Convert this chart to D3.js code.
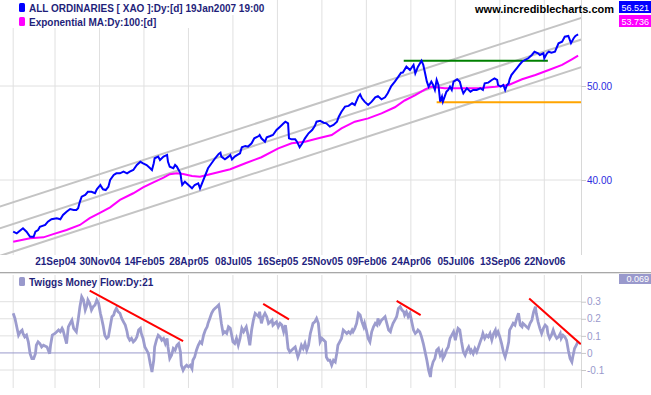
<!DOCTYPE html>
<html>
<head>
<meta charset="utf-8" />
<title>All Ordinaries - Twiggs Money Flow</title>
<script src="https://d3js.org/d3.v7.min.js"></script>
<style>
body { margin: 0; background: white; }
svg { display: block; background: white; font-family: "Liberation Sans", Arial, sans-serif; }
.grid line { stroke: #e0e0e0; stroke-width: 1; }
.legend text { font-size: 10px; font-weight: bold; fill: #1f1f7a; }
.xaxis text { font-size: 10px; font-weight: bold; fill: #1f1f80; }
.xaxis path, .xaxis line { display: none; }
.yaxis path { display: none; }
.yaxis text { font-size: 10px; }
</style>
</head>
<body>
<div id="chart"></div>
<script>
var width = 651, height = 395;

// x is counted in trading days from 21 Sep 2004
var tickDays = [0, 50, 100, 150, 200, 250, 300, 350, 400, 450, 500, 550];
var tickLabels = ["21Sep04", "30Nov04", "14Feb05", "28Apr05", "08Jul05", "16Sep05",
                  "25Nov05", "09Feb06", "24Apr06", "05Jul06", "13Sep06", "22Nov06"];
var priceTicks = [40, 50];
var mfTicks = [-0.1, 0, 0.1, 0.2, 0.3];

// ALL ORDINARIES close (/100)
var xao = [[-47,35.38],[-43,35.24],[-36,35.67],[-32,35.38],[-28,34.96],[-24,34.96],[-22,35.38],[-19,35.52],[-17,35.80],[-11,35.95],[-8,36.23],[-4,36.44],[2,36.53],[6,36.44],[9,36.81],[13,37.10],[17,37.34],[21,37.25],[24,37.25],[26,37.40],[28,38.00],[30,38.45],[34,38.60],[37,38.90],[41,38.90],[45,38.76],[47,39.13],[51,39.53],[52,39.37],[54,39.13],[57,39.06],[60,39.37],[62,40.00],[66,40.48],[69,40.64],[73,40.64],[77,40.80],[81,40.64],[84,40.80],[88,40.96],[92,41.45],[96,41.77],[99,41.62],[103,41.45],[107,41.13],[109,40.96],[111,41.62],[112,42.12],[116,42.28],[118,41.94],[122,42.28],[126,42.45],[127,41.77],[129,41.28],[133,41.13],[135,41.45],[137,41.28],[139,40.96],[141,40.64],[142,40.00],[143,39.53],[146,39.84],[150,39.53],[154,39.22],[157,39.53],[161,39.69],[163,39.22],
  [172,41.13],[176,41.62],[180,42.12],[184,42.55],[186,42.68],[187,42.28],[191,42.01],[195,42.28],[197,42.45],[199,42.01],[202,42.28],[205,42.45],[208,42.62],[210,43.23],[214,43.37],[217,43.30],[221,43.64],[224,44.16],[229,44.40],[230,44.51],[232,44.16],[236,43.81],[238,44.27],[242,44.40],[245,44.51],[249,45.04],[253,45.40],[257,45.76],[259,45.94],[262,45.76],[263,44.16],[266,44.05],[270,44.05],[272,43.81],[275,43.23],[278,43.64],[281,44.16],[285,44.69],[289,45.04],[292,45.47],[294,45.94],[298,46.04],[302,45.83],[305,45.76],[309,45.40],[313,45.58],[317,45.94],[319,46.48],[322,47.04],[326,47.61],[330,47.69],[334,47.99],[337,47.80],[341,48.75],[343,49.02],[345,48.56],[348,48.18],[352,47.80],[356,48.18],[360,48.68],[363,48.82],[367,48.45],[371,48.68],[374,49.14],[378,50.00],[382,50.52],[386,51.12],[389,51.61],[391,51.63],[395,52.35],[399,51.94],[403,52.56],[405,51.53],[408,52.35],[412,53.09],[414,52.56],[416,51.53],[418,50.52],[420,49.92],[423,50.52],[425,50.12],[427,49.53],[429,50.72],[431,50.12],[433,48.18],[435,48.75],[436,48.18],[438,48.75],[440,49.33],[442,49.53],[444,49.92],[446,49.53],[448,50.52],[452,50.80],[455,50.52],[457,49.73],[459,49.14],[463,49.73],[467,49.33],[470,49.53],[474,49.53],[478,49.73],[481,49.53],[483,50.32],[487,50.40],[491,50.72],[494,50.92],[497,50.72],[498,50.12],[501,49.92],[504,50.12],[506,49.53],[508,50.12],[510,50.32],[511,50.80],[513,51.32],[516,51.74],[519,52.15],[522,52.56],[525,52.96],[528,53.18],[532,53.40],[536,53.82],[539,54.24],[543,54.04],[545,53.82],[549,54.04],[550,53.40],[553,54.04],[555,54.24],[558,54.12],[562,54.24],[566,55.33],[570,55.55],[573,56.21],[577,56.31],[580,55.35],[583,56.00],[585,56.31],[588,56.52]];

// Exponential MA 100
var ema = [[-47,34.55],[-28,34.83],[-13,34.91],[-2,35.18],[13,35.52],[28,35.95],[39,36.53],[51,37.01],[62,37.49],[73,38.15],[88,38.76],[99,39.31],[110,39.75],[122,40.22],[129,40.55],[137,40.64],[144,40.58],[154,40.38],[163,40.32],[197,41.03],[214,41.62],[232,42.22],[251,43.12],[266,43.64],[281,43.81],[296,44.16],[311,44.51],[322,45.22],[337,45.94],[352,46.30],[367,46.86],[382,47.54],[393,48.31],[405,48.94],[416,49.61],[423,49.92],[438,49.73],[457,49.73],[476,49.73],[495,49.92],[510,50.12],[525,50.80],[540,51.32],[555,51.94],[570,52.56],[581,53.27],[588,53.74]];

// Twiggs Money Flow 21
var tmf = [[-47,0.232],[-45,0.202],[-43,0.153],[-41,0.104],[-39,0.124],[-37,0.134],[-36,0.114],[-34,0.094],[-32,0.104],[-30,0.065],[-28,-0.004],[-26,-0.033],[-24,-0.033],[-22,-0.004],[-21,0.045],[-19,0.065],[-17,0.055],[-15,0.035],[-13,0.045],[-9,0.035],[-6,-0.004],[-5,0.045],[-3,0.104],[0,0.114],[2,0.124],[4,0.134],[6,0.124],[8,0.144],[9,0.134],[11,0.094],[13,0.055],[15,0.153],[17,0.173],[19,0.192],[21,0.144],[24,0.124],[26,0.192],[28,0.271],[30,0.329],[32,0.310],[34,0.251],[36,0.281],[37,0.310],[39,0.291],[41,0.251],[43,0.271],[45,0.281],[47,0.310],[49,0.291],[51,0.232],[52,0.212],[54,0.163],[56,0.104],[58,0.085],[60,0.094],[62,0.153],[64,0.212],[66,0.222],[67,0.241],[69,0.261],[71,0.241],[73,0.232],[75,0.202],[77,0.182],[79,0.163],[81,0.124],[82,0.094],[84,0.075],[86,0.085],[88,0.065],[90,0.075],[92,0.094],[94,0.134],[96,0.144],[97,0.114],[99,0.085],[101,0.035],[103,0.016],[105,-0.004],[107,-0.062],[109,-0.112],[111,-0.043],[112,0.035],[114,0.075],[116,0.104],[118,0.094],[120,0.075],[122,0.085],[124,0.055],[126,0.085],[127,0.035],[129,-0.033],[131,-0.014],[133,0.026],[135,0.016],[137,0.045],[139,0.055],[141,0.006],[142,-0.072],[144,-0.102],[146,-0.082],[148,-0.072],[150,-0.082],[152,-0.072],[154,-0.092],[155,-0.043],[157,-0.024],[159,0.016],[161,0.045],[163,0.065],[165,0.055],[167,0.104],[169,0.134],[171,0.153],[172,0.173],[174,0.202],[176,0.232],[178,0.251],[180,0.261],[182,0.271],[184,0.281],[185,0.251],[187,0.173],[189,0.114],[191,0.124],[193,0.114],[195,0.153],[197,0.144],[199,0.094],[200,0.065],[202,0.055],[204,0.085],[206,0.045],[208,0.085],[210,0.144],[212,0.124],[214,0.144],[215,0.153],[217,0.104],[219,0.045],[221,0.134],[223,0.192],[225,0.232],[227,0.222],[229,0.212],[230,0.241],[232,0.173],[234,0.212],[236,0.232],[238,0.212],[240,0.173],[242,0.182],[244,0.192],[245,0.163],[247,0.173],[249,0.182],[251,0.153],[253,0.173],[255,0.163],[257,0.124],[259,0.163],[260,0.124],[262,0.026],[264,0.006],[268,0.026],
  [270,0.035],[272,-0.004],[273,-0.024],[275,0.006],[277,0.045],[279,0.026],[281,0.055],[283,0.016],[285,0.045],[287,0.114],[289,0.153],[290,0.173],[292,0.182],[294,0.202],[296,0.173],[298,0.065],[300,0.085],[302,0.075],[304,0.065],[305,-0.024],[307,-0.043],[309,-0.043],[311,-0.072],[313,-0.043],[315,-0.053],[317,0.006],[318,0.045],[320,0.065],[322,0.085],[324,0.134],[326,0.124],[328,0.114],[330,0.124],[332,0.114],[334,0.134],[335,0.124],[337,0.144],[339,0.173],[341,0.232],[343,0.222],[345,0.182],[347,0.153],[348,0.173],[350,0.134],[352,0.085],[354,0.065],[356,0.124],[358,0.153],[360,0.173],[362,0.163],[363,0.202],[365,0.173],[367,0.192],[369,0.202],[371,0.212],[373,0.173],[375,0.134],[377,0.124],[378,0.144],[380,0.173],[382,0.192],[384,0.212],[386,0.261],[388,0.271],[390,0.251],[392,0.241],[393,0.222],[395,0.241],[397,0.212],[399,0.232],[401,0.182],[403,0.134],[405,0.114],[407,0.124],[408,0.134],[410,0.124],[412,0.094],[414,0.055],[416,0.006],[418,-0.043],[420,-0.102],[422,-0.141],[423,-0.092],[425,-0.053],[427,-0.033],[429,0.016],[431,0.026],[433,-0.014],[435,0.006],[436,-0.033],[438,-0.014],[440,0.016],[442,0.035],[444,0.085],[446,0.104],[448,0.124],[450,0.075],[452,0.124],[453,0.144],[455,0.134],[457,0.065],[459,0.006],[461,-0.014],[463,0.016],[465,0.035],[467,0.006],[468,0.016],[470,-0.004],[472,0.026],[474,0.006],[476,0.035],[478,0.065],[480,0.094],[481,0.114],[483,0.085],[485,0.104],[487,0.094],[489,0.114],[491,0.075],[493,0.114],[495,0.134],[496,0.104],[498,0.124],[500,0.094],[502,0.055],[504,0.006],[506,-0.024],[508,0.016],[510,0.065],[511,0.134],[513,0.153],[515,0.173],[517,0.163],[519,0.202],[521,0.232],[523,0.163],[525,0.153],[526,0.173],[528,0.163],[530,0.153],[532,0.144],[534,0.173],[536,0.192],[538,0.241],[540,0.271],[541,0.232],[543,0.182],[545,0.144],[547,0.114],[549,0.144],[551,0.163],[553,0.153],[554,0.114],[556,0.085],[558,0.104],[560,0.134],[562,0.104],[564,0.085],[566,0.094],[568,0.114],[569,0.085],[571,0.104],[573,0.094],[575,0.075],[577,0.016],[579,-0.033],[581,-0.053],[582,-0.024],[584,0.026],[586,0.045],[588,0.069]];

// drawn lines: [startDay, startValue, endDay, endValue]
var channelLines = [[-62,37.55,594,58.87],[-62,35.67,594,55.93],[-62,33.40,594,52.37]];
var resistance = [392, 53.1, 554, 53.1];
var support = [429, 48.1, 592, 48.1];
var tmfTrends = [[39,0.365,144,0.069],[234,0.287,263,0.196],[384,0.305,411,0.221],[533,0.319,591,0.051]];

var lastClose = "56.521", lastEma = "53.736", lastTmf = "0.069";

var axisX = 581;
var pricePanel = {top: 0, bottom: 255};
var mfPanel = {top: 275, bottom: 388};

var x = d3.scaleLinear().domain([0, 550]).range([55, 544.3]);
var yPrice = d3.scaleLog().domain([40, 50]).range([180, 86]);
var yMF = d3.scaleLinear().domain([-0.1, 0.3]).range([370, 301.7]);

var svg = d3.select("#chart").append("svg")
    .attr("width", width).attr("height", height);

var defs = svg.append("defs");
defs.append("clipPath").attr("id", "clipPrice").append("rect")
    .attr("x", 0).attr("y", pricePanel.top).attr("width", axisX).attr("height", pricePanel.bottom - pricePanel.top);
defs.append("clipPath").attr("id", "clipMF").append("rect")
    .attr("x", 0).attr("y", mfPanel.top).attr("width", axisX).attr("height", mfPanel.bottom - mfPanel.top);

var gridDays = [xao[0][0]].concat(tickDays);

// grids
var grid = svg.append("g").attr("class", "grid");
[pricePanel, mfPanel].forEach(function(p) {
    grid.append("g").selectAll("line").data(gridDays).enter().append("line")
        .attr("x1", function(d) { return x(d); }).attr("x2", function(d) { return x(d); })
        .attr("y1", p.top).attr("y2", p.bottom);
});
grid.append("g").selectAll("line").data(priceTicks).enter().append("line")
    .attr("x1", 0).attr("x2", axisX)
    .attr("y1", function(d) { return yPrice(d); }).attr("y2", function(d) { return yPrice(d); });
grid.append("g").selectAll("line").data(mfTicks.filter(function(d) { return d !== 0; })).enter().append("line")
    .attr("x1", 0).attr("x2", axisX)
    .attr("y1", function(d) { return yMF(d); }).attr("y2", function(d) { return yMF(d); });

// legend backgrounds hide the grid behind the captions
svg.append("rect").attr("x", 0).attr("y", 0).attr("width", 256).attr("height", 15).attr("fill", "white");
svg.append("rect").attr("x", 0).attr("y", 15).attr("width", 200).attr("height", 13).attr("fill", "white");

// price panel
var gp = svg.append("g").attr("clip-path", "url(#clipPrice)");
gp.selectAll(".channel").data(channelLines).enter().append("line")
    .attr("x1", function(d) { return x(d[0]); }).attr("y1", function(d) { return yPrice(d[1]); })
    .attr("x2", function(d) { return x(d[2]); }).attr("y2", function(d) { return yPrice(d[3]); })
    .attr("stroke", "#c4c4c4").attr("stroke-width", 2);

var priceLine = d3.line().x(function(d) { return x(d[0]); }).y(function(d) { return yPrice(d[1]); });
gp.append("path").datum(ema).attr("d", priceLine)
    .attr("fill", "none").attr("stroke", "#ff00ff").attr("stroke-width", 2);

[[resistance, "#008000"], [support, "#ffa500"]].forEach(function(r) {
    gp.append("line")
        .attr("x1", x(r[0][0])).attr("y1", yPrice(r[0][1]))
        .attr("x2", x(r[0][2])).attr("y2", yPrice(r[0][3]))
        .attr("stroke", r[1]).attr("stroke-width", 2);
});

gp.append("path").datum(xao).attr("d", priceLine)
    .attr("fill", "none").attr("stroke", "#0000ff").attr("stroke-width", 2)
    .attr("stroke-linejoin", "miter");

// money flow panel
var gm = svg.append("g").attr("clip-path", "url(#clipMF)");
gm.append("line").attr("x1", 0).attr("x2", axisX)
    .attr("y1", yMF(0)).attr("y2", yMF(0))
    .attr("stroke", "#9999cc").attr("stroke-width", 1);
gm.append("path").datum(tmf)
    .attr("d", d3.line().x(function(d) { return x(d[0]); }).y(function(d) { return yMF(d[1]); }))
    .attr("fill", "none").attr("stroke", "#9c9cce").attr("stroke-width", 2.8);
gm.selectAll(".trend").data(tmfTrends).enter().append("line")
    .attr("x1", function(d) { return x(d[0]); }).attr("y1", function(d) { return yMF(d[1]); })
    .attr("x2", function(d) { return x(d[2]); }).attr("y2", function(d) { return yMF(d[3]); })
    .attr("stroke", "#ff0000").attr("stroke-width", 2);

// separator between panels
svg.append("line").attr("x1", 0).attr("x2", width).attr("y1", 272.5).attr("y2", 272.5)
    .attr("stroke", "#a8a8a8").attr("stroke-width", 1);
svg.append("line").attr("x1", 0).attr("x2", width).attr("y1", 273.5).attr("y2", 273.5)
    .attr("stroke", "#e4e4e4").attr("stroke-width", 1);

// right axis line
svg.append("line").attr("x1", axisX + 0.5).attr("x2", axisX + 0.5)
    .attr("y1", 0).attr("y2", pricePanel.bottom).attr("stroke", "#d8d8d8");
svg.append("line").attr("x1", axisX + 0.5).attr("x2", axisX + 0.5)
    .attr("y1", mfPanel.top).attr("y2", mfPanel.bottom).attr("stroke", "#d8d8d8");

// x axis
svg.append("g").attr("class", "xaxis")
    .attr("transform", "translate(0," + pricePanel.bottom + ")")
    .call(d3.axisBottom(x).tickValues(tickDays).tickSize(0).tickPadding(3)
        .tickFormat(function(d, i) { return tickLabels[i]; }));

// y axes
var ya = svg.append("g").attr("class", "yaxis").attr("transform", "translate(" + axisX + ",0)")
    .call(d3.axisRight(yPrice).tickValues(priceTicks).tickSize(5).tickPadding(1)
        .tickFormat(d3.format(".2f")));
ya.selectAll("line").attr("stroke", "#c8c8c8");
ya.selectAll("text").attr("fill", "#2a2ae0");

var ym = svg.append("g").attr("class", "yaxis").attr("transform", "translate(" + axisX + ",0)")
    .call(d3.axisRight(yMF).tickValues(mfTicks).tickSize(5).tickPadding(1)
        .tickFormat(function(d) { return String(d); }));
ym.selectAll("line").attr("stroke", "#c8c8c8");
ym.selectAll("text").attr("fill", "#9999cc");

// value boxes
function valueBox(y, h, color, label) {
    svg.append("rect").attr("x", 619).attr("y", y).attr("width", 32).attr("height", h).attr("fill", color);
    svg.append("text").attr("x", 649).attr("y", y + h - 2).attr("text-anchor", "end")
        .attr("font-size", "9px").attr("fill", "white").text(label);
}
valueBox(1, 12, "#0000ff", lastClose);
valueBox(15, 12, "#ff00ff", lastEma);
valueBox(274, 10, "#9999cc", lastTmf);

// legends
var lg = svg.append("g").attr("class", "legend");
function legendItem(y, color, label) {
    lg.append("rect").attr("x", 19).attr("y", y - 9).attr("width", 6).attr("height", 9)
        .attr("rx", 1.5).attr("fill", color);
    lg.append("text").attr("x", 29).attr("y", y).text(label);
}
legendItem(12, "#0000ff", "ALL ORDINARIES [ XAO ]:Dy:[d]  19Jan2007 19:00");
legendItem(26, "#ff00ff", "Exponential MA:Dy:100:[d]");
legendItem(286, "#9999cc", "Twiggs Money Flow:Dy:21");

svg.append("text").attr("x", 614).attr("y", 13).attr("text-anchor", "end")
    .attr("font-size", "11px").attr("font-weight", "bold").attr("fill", "black")
    .text("www.incrediblecharts.com");
</script>
</body>
</html>
